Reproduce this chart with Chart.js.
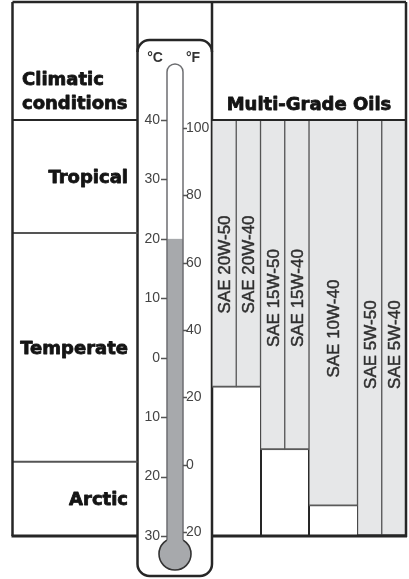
<!DOCTYPE html>
<html>
<head>
<meta charset="utf-8">
<script src="https://cdn.jsdelivr.net/npm/chart.js@4/dist/chart.umd.min.js"></script>
<style>
  html, body { margin: 0; padding: 0; background: #fff; }
  #wrap { width: 409px; height: 579px; }
  canvas { display: block; }
</style>
</head>
<body>
<div id="wrap"><canvas id="chart" width="409" height="579"></canvas></div>
<script>
// ---------------- DATA ----------------
const oilGrades = ['SAE 20W-50', 'SAE 20W-40', 'SAE 15W-50', 'SAE 15W-40', 'SAE 10W-40', 'SAE 5W-50', 'SAE 5W-40'];
const oilMinC   = [-5, -5, -15.5, -15.5, -25, -30, -30];
const oilMaxC   = [40, 40, 40, 40, 40, 40, 40];

const celsiusTicks        = [40, 30, 20, 10, 0, -10, -20, -30];
const celsiusTickLabels   = ['40', '30', '20', '10', '0', '10', '20', '30'];
const fahrenheitTicks      = [100, 80, 60, 40, 20, 0, -20];
const fahrenheitTickLabels = ['100', '80', '60', '40', '20', '0', '20'];
const celsiusRange    = [-30, 40];
const fahrenheitRange = [-21.2, 102.4];

const zoneNames  = ['Tropical', 'Temperate', 'Arctic'];
const zoneUpperC = [40, 21, -17.5];
const zoneLowerC = [21, -17.5, -30];

const thermometerReadingC = 20;

const headerLeftLines = ['Climatic', 'conditions'];
const headerRight = 'Multi-Grade Oils';
const unitLabels = ['°C', '°F'];

// -------- build bar tables (grades grouped by winter grade) --------
const groupKey = g => g.split(' ')[1].split('-')[0];
const groups = [];
oilGrades.forEach(g => { const k = groupKey(g); if (!groups.includes(k)) groups.push(k); });
const narrowLabels = [], narrowData = [], wideLabels = [], wideData = [];
groups.forEach(k => {
  const idx = oilGrades.map((g, i) => i).filter(i => groupKey(oilGrades[i]) === k);
  if (idx.length === 1) {
    const i = idx[0];
    wideLabels.push(oilGrades[i]); wideData.push([oilMinC[i], oilMaxC[i]]);
    narrowLabels.push('', ''); narrowData.push(null, null);
  } else {
    wideLabels.push(''); wideData.push(null);
    idx.forEach(i => { narrowLabels.push(oilGrades[i]); narrowData.push([oilMinC[i], oilMaxC[i]]); });
  }
});

// ---------------- STYLE ----------------
const INK = '#262626';
const BAR_FILL = '#e6e7e8';
const BAR_EDGE = '#5a5a5a';
const MERCURY = '#a7a9ac';
const TITLE_FONT = 'bold 18px "DejaVu Sans"';

const barStyle = {
  backgroundColor: BAR_FILL,
  borderColor: BAR_EDGE,
  borderWidth: { left: 1, right: 1, top: 0, bottom: 2 },
  borderSkipped: false,
  barPercentage: 1,
  categoryPercentage: 1,
  grouped: false
};

function heavyText(ctx, text, x, y, w) {
  ctx.lineWidth = w;
  ctx.lineJoin = 'round';
  ctx.strokeStyle = ctx.fillStyle;
  ctx.strokeText(text, x, y);
  ctx.fillText(text, x, y);
}

const diagramPlugin = {
  id: 'diagram',
  beforeDraw(chart) {
    const { ctx, chartArea, scales: { yC, yF } } = chart;
    ctx.save();
    ctx.fillStyle = '#fff';
    ctx.fillRect(0, 0, chart.width, chart.height);

    // thermometer case
    const L = 137.5, R = chartArea.left, T = 40, B = 576, rad = 12;
    ctx.beginPath();
    ctx.roundRect(L, T, R - L, B - T, rad);
    ctx.fillStyle = '#fff';
    ctx.fill();
    ctx.lineWidth = 2.5;
    ctx.strokeStyle = INK;
    ctx.stroke();
    ctx.beginPath();
    ctx.moveTo(L, 2); ctx.lineTo(L, T + rad);
    ctx.moveTo(R, 2); ctx.lineTo(R, T + rad);
    ctx.stroke();

    // tube + bulb
    const cx = 175, hw = 8, topY = 64, bulbY = 554, bulbR = 16;
    ctx.beginPath();
    ctx.moveTo(cx - hw, bulbY);
    ctx.lineTo(cx - hw, topY + hw);
    ctx.arc(cx, topY + hw, hw, Math.PI, 0);
    ctx.lineTo(cx + hw, bulbY);
    ctx.closePath();
    ctx.fillStyle = '#fff';
    ctx.fill();

    ctx.beginPath();
    ctx.arc(cx, bulbY, bulbR, 0, Math.PI * 2);
    ctx.fillStyle = MERCURY;
    ctx.fill();
    ctx.lineWidth = 1.6;
    ctx.strokeStyle = '#333';
    ctx.stroke();

    const mTop = yC.getPixelForValue(thermometerReadingC);
    ctx.fillStyle = MERCURY;
    ctx.fillRect(cx - hw, mTop, hw * 2, bulbY - mTop);

    const joinY = bulbY - Math.sqrt(bulbR * bulbR - hw * hw);
    ctx.beginPath();
    ctx.moveTo(cx - hw, joinY);
    ctx.lineTo(cx - hw, topY + hw);
    ctx.arc(cx, topY + hw, hw, Math.PI, 0);
    ctx.lineTo(cx + hw, joinY);
    ctx.lineWidth = 1.5;
    ctx.strokeStyle = '#6d6e71';
    ctx.stroke();

    // tick dashes
    ctx.lineWidth = 1.3;
    ctx.strokeStyle = '#555';
    ctx.beginPath();
    celsiusTicks.forEach(v => {
      const y = Math.round(yC.getPixelForValue(v)) + 0.5;
      ctx.moveTo(161, y); ctx.lineTo(cx - hw, y);
    });
    fahrenheitTicks.forEach(v => {
      const y = Math.round(yF.getPixelForValue(v)) + 0.5;
      ctx.moveTo(cx + hw, y); ctx.lineTo(187, y);
    });
    ctx.stroke();

    // unit labels
    ctx.fillStyle = '#333';
    ctx.font = 'bold 14px "Liberation Sans"';
    ctx.textAlign = 'center';
    ctx.textBaseline = 'middle';
    ctx.fillText(unitLabels[0], 155, 58);
    ctx.fillText(unitLabels[1], 193, 58);
    ctx.restore();
  },
  afterDatasetsDraw(chart) {
    const { ctx } = chart;
    ctx.save();
    ctx.fillStyle = '#2e2e2e';
    ctx.font = '17px "Liberation Sans"';
    ctx.textAlign = 'center';
    ctx.textBaseline = 'alphabetic';
    chart.data.datasets.forEach((ds, di) => {
      const meta = chart.getDatasetMeta(di);
      const names = ds.xAxisID === 'x2' ? wideLabels : narrowLabels;
      meta.data.forEach((el, i) => {
        if (!ds.data[i]) return;
        const top = Math.min(el.y, el.base), bot = Math.max(el.y, el.base);
        const yMid = top + (bot - top) * 0.54;
        ctx.save();
        ctx.translate(el.x, yMid);
        ctx.rotate(-Math.PI / 2);
        heavyText(ctx, names[i], 0, 6, 0.45);
        ctx.restore();
      });
    });
    ctx.restore();
  },
  afterDraw(chart) {
    const { ctx, chartArea, scales: { yC } } = chart;
    const leftX = 12.5, colX = 137.5, rightX = chartArea.right, topY = 2;
    const headY = chartArea.top, botY = chartArea.bottom;
    ctx.save();
    ctx.lineCap = 'butt';

    // zone separators
    ctx.strokeStyle = '#555';
    ctx.lineWidth = 2;
    ctx.beginPath();
    zoneLowerC.slice(0, -1).forEach(v => {
      const y = yC.getPixelForValue(v);
      ctx.moveTo(leftX, y); ctx.lineTo(colX, y);
    });
    ctx.stroke();

    // header line
    ctx.strokeStyle = INK;
    ctx.lineWidth = 2;
    ctx.beginPath();
    ctx.moveTo(leftX, headY); ctx.lineTo(colX, headY);
    ctx.moveTo(chartArea.left, headY); ctx.lineTo(rightX, headY);
    ctx.stroke();

    // outer frame
    ctx.lineWidth = 2.5;
    ctx.beginPath();
    ctx.moveTo(leftX, topY); ctx.lineTo(rightX, topY);
    ctx.moveTo(leftX, topY); ctx.lineTo(leftX, botY);
    ctx.moveTo(rightX, topY); ctx.lineTo(rightX, botY + 1);
    ctx.stroke();
    ctx.lineWidth = 3;
    ctx.beginPath();
    ctx.moveTo(leftX - 1, botY); ctx.lineTo(colX, botY);
    ctx.moveTo(chartArea.left, botY); ctx.lineTo(rightX + 1, botY);
    ctx.stroke();

    // titles
    ctx.fillStyle = '#141414';
    ctx.font = TITLE_FONT;
    ctx.textBaseline = 'alphabetic';
    ctx.textAlign = 'left';
    heavyText(ctx, headerLeftLines[0], 22, 85, 0.8);
    heavyText(ctx, headerLeftLines[1], 22, 109, 0.8);
    ctx.textAlign = 'center';
    heavyText(ctx, headerRight, (chartArea.left + chartArea.right) / 2, 110, 0.8);

    // zone labels
    ctx.textAlign = 'right';
    zoneNames.forEach((name, i) => {
      const y1 = yC.getPixelForValue(zoneUpperC[i]);
      const y2 = yC.getPixelForValue(zoneLowerC[i]);
      heavyText(ctx, name, 128, (y1 + y2) / 2 + 6.5, 0.8);
    });
    ctx.restore();
  }
};

new Chart(document.getElementById('chart'), {
  type: 'bar',
  data: {
    datasets: [
      Object.assign({ label: 'paired grades', data: narrowData, xAxisID: 'x', yAxisID: 'yC' }, barStyle),
      Object.assign({ label: 'single grade', data: wideData, xAxisID: 'x2', yAxisID: 'yC' }, barStyle)
    ]
  },
  options: {
    responsive: false,
    animation: false,
    devicePixelRatio: 1,
    layout: { padding: { top: 120, bottom: 43, left: 12, right: 3 } },
    plugins: { legend: { display: false }, tooltip: { enabled: false } },
    scales: {
      x: {
        type: 'category', labels: narrowLabels, display: false,
        offset: true, grid: { offset: true, display: false }
      },
      x2: {
        type: 'category', labels: wideLabels, position: 'bottom', display: true,
        offset: true,
        grid: { offset: true, color: INK, lineWidth: 2, drawTicks: false, drawOnChartArea: true },
        border: { display: false },
        ticks: { display: false },
        afterFit: s => { s.height = 0; }
      },
      yC: {
        type: 'linear', position: 'left', weight: 10,
        min: celsiusRange[0], max: celsiusRange[1],
        afterBuildTicks: s => { s.ticks = celsiusTicks.map(v => ({ value: v })); },
        afterFit: s => { s.width = 174; },
        grid: { display: false, drawTicks: false },
        border: { display: false },
        ticks: {
          autoSkip: false, padding: 26, color: '#444',
          font: { family: 'Liberation Sans', size: 14 },
          callback: v => celsiusTickLabels[celsiusTicks.indexOf(v)]
        }
      },
      yF: {
        type: 'linear', position: 'left', weight: 0,
        min: fahrenheitRange[0], max: fahrenheitRange[1],
        afterBuildTicks: s => { s.ticks = fahrenheitTicks.map(v => ({ value: v })); },
        afterFit: s => { s.width = 26; },
        grid: { display: false, drawTicks: false },
        border: { display: false },
        ticks: {
          autoSkip: false, padding: 0, crossAlign: 'far', color: '#444',
          font: { family: 'Liberation Sans', size: 14 },
          callback: v => fahrenheitTickLabels[fahrenheitTicks.indexOf(v)]
        }
      }
    }
  },
  plugins: [diagramPlugin]
});
</script>
</body>
</html>
